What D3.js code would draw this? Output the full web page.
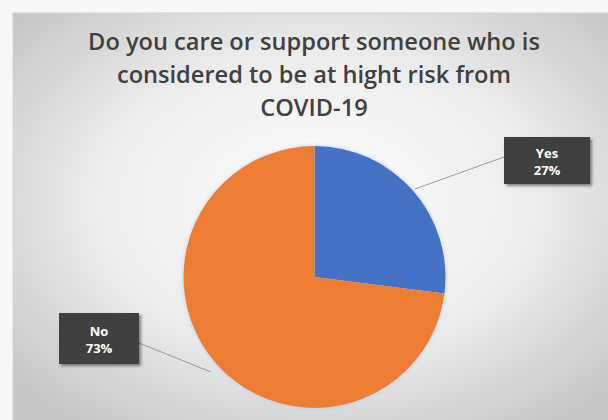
<!DOCTYPE html>
<html>
<head>
<meta charset="utf-8">
<script src="https://cdn.jsdelivr.net/npm/d3@7"></script>
<style>
  html, body { margin: 0; padding: 0; background: #f7f7f7; }
  svg { display: block; }
</style>
</head>
<body>
<svg id="chart" width="608" height="420"></svg>
<script>
// Survey answers and their shares
const categories = ["Yes", "No"];
const values = [27, 73];
const colors = ["#4472C4", "#ED7D31"];
const titleLines = [
  "Do you care or support someone who is",
  "considered to be at hight risk from",
  "COVID-19"
];

const W = 608, H = 420;
const svg = d3.select("#chart");
const defs = svg.append("defs");

// Soft radial backdrop of the chart area
const bg = defs.append("radialGradient").attr("id", "bgGrad")
  .attr("cx", "50%").attr("cy", "45%").attr("r", "65%");
bg.append("stop").attr("offset", "0%").attr("stop-color", "#ffffff");
bg.append("stop").attr("offset", "55%").attr("stop-color", "#ececec");
bg.append("stop").attr("offset", "100%").attr("stop-color", "#c6c6c6");

const shadow = defs.append("filter").attr("id", "shadow")
  .attr("x", "-20%").attr("y", "-20%").attr("width", "150%").attr("height", "150%");
shadow.append("feDropShadow").attr("dx", 2).attr("dy", 2)
  .attr("stdDeviation", 1.5).attr("flood-color", "#000").attr("flood-opacity", 0.45);

const glow = defs.append("filter").attr("id", "glow")
  .attr("x", "-10%").attr("y", "-10%").attr("width", "120%").attr("height", "120%");
glow.append("feGaussianBlur").attr("in", "SourceAlpha").attr("stdDeviation", 2).attr("result", "b");
glow.append("feFlood").attr("flood-color", "#9fc3e8").attr("flood-opacity", 0.7);
glow.append("feComposite").attr("in2", "b").attr("operator", "in").attr("result", "g");
const gm = glow.append("feMerge");
gm.append("feMergeNode").attr("in", "g");
gm.append("feMergeNode").attr("in", "SourceGraphic");

// Chart area
svg.append("rect").attr("x", 13).attr("y", 13).attr("width", W).attr("height", H)
  .attr("fill", "url(#bgGrad)").attr("stroke", "#d4d4d4");

// Title, sized so its first line spans the intended width
const title = svg.append("text")
  .attr("text-anchor", "middle")
  .attr("font-family", "'Open Sans', sans-serif")
  .attr("font-weight", 600)
  .attr("font-size", 21)
  .attr("fill", "#404040");
const tspans = title.selectAll("tspan").data(titleLines).join("tspan")
  .attr("x", 314)
  .attr("y", (d, i) => 50 + i * 33)
  .text(d => d);
const firstW = tspans.node().getComputedTextLength();
if (firstW > 0) title.attr("font-size", 21 * 452 / firstW);

// Pie
const cx = 314.5, cy = 277, r = 131;
const pie = d3.pie().sort(null).value(d => d.value);
const data = categories.map((c, i) => ({ name: c, value: values[i], color: colors[i] }));
const arcs = pie(data);
const arc = d3.arc().innerRadius(0).outerRadius(r);

const g = svg.append("g").attr("transform", `translate(${cx},${cy})`).attr("filter", "url(#glow)");
g.selectAll("path").data(arcs).join("path")
  .attr("d", arc)
  .attr("fill", d => d.data.color);

// Data labels in dark callout boxes with leader lines
const labelBoxes = [
  { x: 504, y: 137, w: 86, h: 47, lineFrom: [415, 189], lineTo: [504, 157] },
  { x: 59, y: 313, w: 80, h: 51, lineFrom: [211, 372], lineTo: [139, 343] }
];
const total = d3.sum(values);

arcs.forEach((a, i) => {
  const b = labelBoxes[i];
  svg.append("line")
    .attr("x1", b.lineFrom[0]).attr("y1", b.lineFrom[1])
    .attr("x2", b.lineTo[0]).attr("y2", b.lineTo[1])
    .attr("stroke", "#9a9a9a").attr("stroke-width", 1);
  svg.append("rect")
    .attr("x", b.x).attr("y", b.y).attr("width", b.w).attr("height", b.h)
    .attr("fill", "#404040").attr("filter", "url(#shadow)");
  const t = svg.append("text")
    .attr("text-anchor", "middle")
    .attr("font-family", "'Open Sans', sans-serif")
    .attr("font-weight", 700)
    .attr("font-size", 13)
    .attr("fill", "#ffffff");
  const mx = b.x + b.w / 2, my = b.y + b.h / 2;
  t.append("tspan").attr("x", mx).attr("y", my - 3).text(a.data.name);
  t.append("tspan").attr("x", mx).attr("y", my + 14)
    .text(Math.round(a.data.value / total * 100) + "%");
});
</script>
</body>
</html>
